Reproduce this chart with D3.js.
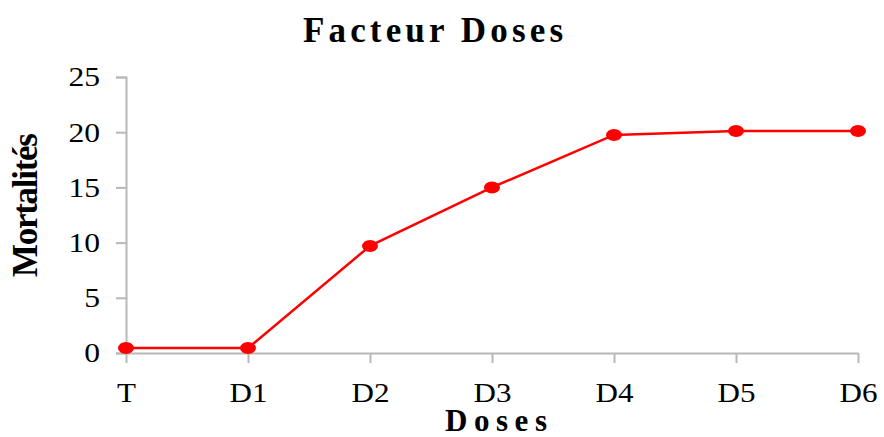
<!DOCTYPE html>
<html>
<head>
<meta charset="utf-8">
<script src="https://cdn.jsdelivr.net/npm/d3@7"></script>
<style>
  html, body { margin: 0; padding: 0; background: #fff; }
  svg { display: block; }
  text { font-family: "Liberation Serif", "Times New Roman", serif; fill: #000; }
</style>
</head>
<body>
<svg id="chart" width="884" height="437"></svg>
<script>
// Mortality by dose level
const categories = ["T", "D1", "D2", "D3", "D4", "D5", "D6"];
const mortalites = [0.45, 0.45, 9.7, 15.0, 19.75, 20.1, 20.1];
const yTicks = [0, 5, 10, 15, 20, 25];

const svg = d3.select("#chart");
const margin = { left: 126, right: 26, top: 77, bottom: 84 };
const W = 884, H = 437;

const x = d3.scalePoint().domain(categories).range([margin.left, W - margin.right]);
const y = d3.scaleLinear().domain([0, 25]).range([H - margin.bottom, margin.top]);

const axisColor = "#b8b8b8";

// widen glyphs horizontally
function stretch(sel, k) {
  sel.each(function () {
    const len = this.getComputedTextLength();
    d3.select(this).attr("textLength", len * k).attr("lengthAdjust", "spacingAndGlyphs");
  });
}

// Y axis
const yAxis = svg.append("g")
  .attr("transform", `translate(${margin.left},0)`)
  .call(d3.axisLeft(y).tickValues(yTicks).tickSize(10).tickPadding(16).tickFormat(d3.format("d")));
yAxis.select(".domain").attr("stroke", axisColor).attr("stroke-width", 2);
yAxis.selectAll(".tick line").attr("stroke", axisColor).attr("stroke-width", 2);
yAxis.selectAll(".tick text")
  .attr("font-family", "Liberation Serif, serif")
  .attr("font-size", 27)
  .attr("fill", "#000")
  .attr("dy", "0.33em");
stretch(yAxis.selectAll(".tick text"), 1.17);

// X axis
const xAxis = svg.append("g")
  .attr("transform", `translate(0,${y(0)})`)
  .call(d3.axisBottom(x).tickSize(10).tickPadding(20).tickSizeOuter(0));
xAxis.select(".domain").attr("stroke", axisColor).attr("stroke-width", 2);
xAxis.selectAll(".tick line").attr("stroke", axisColor).attr("stroke-width", 2);
xAxis.selectAll(".tick text")
  .attr("font-family", "Liberation Serif, serif")
  .attr("font-size", 27)
  .attr("fill", "#000");
stretch(xAxis.selectAll(".tick text"), 1.15);

// Series line
const line = d3.line().x((d, i) => x(categories[i])).y(d => y(d));
svg.append("path")
  .datum(mortalites)
  .attr("d", line)
  .attr("fill", "none")
  .attr("stroke", "#ff0000")
  .attr("stroke-width", 2.5);

// Markers
svg.selectAll("ellipse.pt")
  .data(mortalites)
  .join("ellipse")
  .attr("class", "pt")
  .attr("cx", (d, i) => x(categories[i]))
  .attr("cy", d => y(d))
  .attr("rx", 8)
  .attr("ry", 6)
  .attr("fill", "#ff0000");

// Title
svg.append("text")
  .attr("x", 433).attr("y", 42)
  .attr("text-anchor", "middle")
  .attr("font-size", 35).attr("font-weight", "bold")
  .attr("textLength", 260).attr("lengthAdjust", "spacing")
  .text("Facteur Doses");

// X axis title
svg.append("text")
  .attr("x", 496).attr("y", 431)
  .attr("text-anchor", "middle")
  .attr("font-size", 31).attr("font-weight", "bold")
  .attr("textLength", 102).attr("lengthAdjust", "spacing")
  .text("Doses");

// Y axis title
svg.append("text")
  .attr("transform", "translate(37,205) rotate(-90)")
  .attr("text-anchor", "middle")
  .attr("font-size", 35).attr("font-weight", "bold")
  .attr("textLength", 144).attr("lengthAdjust", "spacing")
  .text("Mortalités");
</script>
</body>
</html>
